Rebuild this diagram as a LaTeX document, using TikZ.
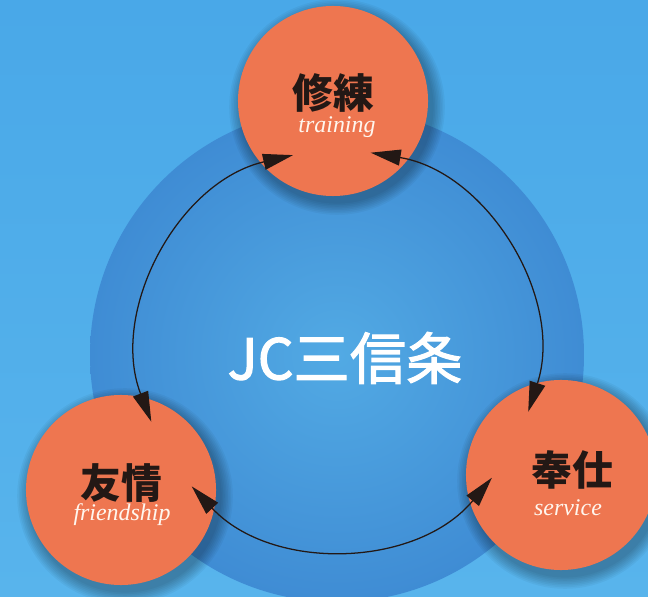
\documentclass[tikz,border=0pt]{standalone}
\usepackage{fontspec}
\setmainfont{Liberation Serif}
\newfontfamily\jp{Noto Sans CJK JP}
\newfontfamily\jptitle{Noto Sans CJK JP}[FakeBold=2]
\usetikzlibrary{arrows.meta, calc}

\definecolor{bgblue}{HTML}{49A8E8}
\definecolor{bglight}{HTML}{58B4EC}
\definecolor{discdark}{HTML}{3F8CD4}
\definecolor{disclight}{HTML}{52AAE4}
\definecolor{orb}{HTML}{EE7650}
\definecolor{ink}{HTML}{231815}
\definecolor{cream}{HTML}{FFF6EE}

\begin{document}
\begin{tikzpicture}[
        x=0.025cm, y=0.025cm,
        virtue/.style={circle, fill=orb, minimum size=4.75cm, inner sep=0pt},
        kanji/.style={font=\jp\bfseries\fontsize{29}{30}\selectfont, text=ink, inner sep=0pt},
        english/.style={font=\itshape\fontsize{17}{18}\selectfont, text=cream, inner sep=0pt},
        cycle/.style={ink, line width=0.9pt, {Triangle[length=7.5mm, width=4mm]}-{Triangle[length=7.5mm, width=4mm]}}
    ]

        % background
        \useasboundingbox (0,0) rectangle (648,596);
        \clip (0,0) rectangle (648,596);
        \shade[top color=bgblue, bottom color=bglight] (0,0) rectangle (648,596);

        % big disc
        \shade[inner color=disclight, outer color=discdark] (337,241) circle (247);

        % ring
        \coordinate (ring) at (338,246);
        \coordinate (a1) at ($(ring)+(103:200)$);
        \coordinate (a2) at ($(ring)+(201:200)$);
        \coordinate (a3) at ($(ring)+(223:200)$);
        \coordinate (a4) at ($(ring)+(320.3:200)$);
        \coordinate (a5) at ($(ring)+(342:200)$);
        \coordinate (a6) at ($(ring)+(440.6:200)$);

        % shadows
        \foreach \c in {(333,495), (121,106), (561,121)}
            \foreach \k in {1,...,8}
                \fill[black, opacity=0.04] \c ++(4,-6) circle (95+1.6*\k);

        \node[virtue] (shuren) at (333,495) {};
        \node[virtue] (yujo) at (121,106) {};
        \node[virtue] (hoshi) at (561,121) {};

        \draw[cycle] (a1) to[bend right=49] (a2);
        \draw[cycle] (a3) to[bend right=48.6] (a4);
        \draw[cycle] (a5) to[bend right=49.3] (a6);

        \node[kanji] (shurenjp) at (333,503) {修練};
        \node[english] (shurenen) at (337,469) {training};
        \node[kanji] (yujojp) at (121,113) {友情};
        \node[english] (yujoen) at (122,81) {friendship};
        \node[kanji] (hoshijp) at (572,126) {奉仕};
        \node[english] (hoshien) at (568,88) {service};

        \node[font=\jptitle\fontsize{40}{42}\selectfont, text=white, inner sep=0pt] (title) at (345,238) {JC三信条};
    \end{tikzpicture}
\end{document}
